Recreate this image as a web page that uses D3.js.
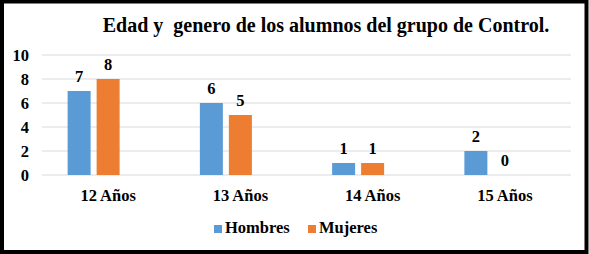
<!DOCTYPE html>
<html><head><meta charset="utf-8">
<script src="https://cdn.jsdelivr.net/npm/d3@7"></script>
<style>
html,body{margin:0;padding:0;background:#fff;}
text{font-family:"Liberation Serif","Times New Roman",serif;font-weight:bold;fill:#000;}
</style></head>
<body><svg id="c" width="589" height="254"></svg>
<script>
const title = "Edad y  genero de los alumnos del grupo de Control.";
const categories = ["12 Años","13 Años","14 Años","15 Años"];
const seriesNames = ["Hombres","Mujeres"];
const hombres = [7,6,1,2];
const mujeres = [8,5,1,0];
const yTicks = [0,2,4,6,8,10];
const colors = ["#5B9BD5","#ED7D31"];

const svg = d3.select("#c");
svg.append("rect").attr("x",0).attr("y",0).attr("width",589).attr("height",254).attr("fill","#fff");

const x0 = d3.scaleBand().domain(categories).range([42,571]).padding(0);
const groupW = 81;
const x1 = d3.scaleBand().domain([...seriesNames,"_empty"]).range([(x0.bandwidth()-groupW)/2,(x0.bandwidth()+groupW)/2]).paddingInner(6/29).paddingOuter(0);
const y = d3.scaleLinear().domain([0,10]).range([175,55]);

// gridlines
svg.append("g").selectAll("line").data(yTicks).join("line")
  .attr("x1",42).attr("x2",571).attr("y1",d=>y(d)).attr("y2",d=>y(d))
  .attr("stroke","#d9d9d9").attr("stroke-width",1);

// y axis labels
const yAxis = d3.axisLeft(y).tickValues(yTicks).tickSize(0).tickPadding(0).tickFormat(d3.format("d"));
const yg = svg.append("g").attr("transform","translate(29,0)").call(yAxis);
yg.select(".domain").remove();
yg.selectAll("text").style("font-size","16.5px").style("font-family","Liberation Serif").attr("fill","#000").attr("dy","0.35em");

// x axis labels
const xAxis = d3.axisBottom(x0).tickSize(0).tickPadding(0);
const xg = svg.append("g").attr("transform","translate(0,201)").call(xAxis);
xg.select(".domain").remove();
xg.selectAll("text").style("font-size","16.5px").style("font-family","Liberation Serif").attr("fill","#000").attr("dy","0");

const data = categories.map((c,i)=>({cat:c, vals:[hombres[i],mujeres[i]]}));
const groups = svg.append("g").selectAll("g").data(data).join("g")
  .attr("transform",d=>`translate(${x0(d.cat)},0)`);
groups.selectAll("rect").data(d=>d.vals.map((v,j)=>({v,j}))).join("rect")
  .attr("x",d=>x1(seriesNames[d.j])).attr("width",x1.bandwidth())
  .attr("y",d=>y(d.v)).attr("height",d=>y(0)-y(d.v))
  .attr("fill",d=>colors[d.j]);
groups.selectAll("text").data(d=>d.vals.map((v,j)=>({v,j}))).join("text")
  .attr("x",d=>x1(seriesNames[d.j])+x1.bandwidth()/2).attr("y",d=>y(d.v)-9)
  .attr("text-anchor","middle").style("font-size","16.5px").text(d=>d.v);

// title
svg.append("text").attr("x",326).attr("y",32).attr("text-anchor","middle")
  .style("font-size","20px").style("white-space","pre").text(title);

// legend
const legX = [214,308];
const lg = svg.append("g").selectAll("g").data(seriesNames).join("g");
lg.append("rect").attr("x",(d,i)=>legX[i]).attr("y",225).attr("width",8).attr("height",8).attr("fill",(d,i)=>colors[i]);
lg.append("text").attr("x",(d,i)=>legX[i]+11).attr("y",233).style("font-size","16.5px").text(d=>d);

// frame
svg.append("rect").attr("x",2).attr("y",1.5).attr("width",584.5).attr("height",250.5)
  .attr("fill","none").attr("stroke","#000").attr("stroke-width",4);
</script></body></html>
